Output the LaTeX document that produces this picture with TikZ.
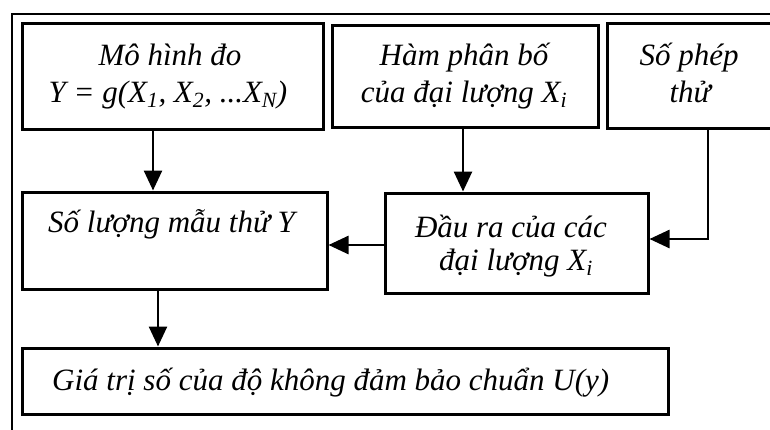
\documentclass[tikz,border=0pt]{standalone}
\usepackage{fontspec}
\setmainfont{Liberation Serif}
\usetikzlibrary{arrows.meta}
\newcommand{\sbx}[1]{\textsubscript{#1}}
\begin{document}
\begin{tikzpicture}[x=1pt,y=-1pt,
  box/.style={draw, line width=3pt, rectangle, inner sep=0pt},
  lbl/.style={anchor=base, inner sep=0pt, font=\fontsize{31}{37}\selectfont\itshape},
  lblw/.style={lbl, anchor=base west},
  arr/.style={line width=2.6pt, -{Triangle[length=20pt,width=18pt]}}]
\useasboundingbox (0,0) rectangle (770,429);
\clip (0,0) rectangle (770,429);
\draw[line width=2.6pt] (12,440) -- (12,14) -- (780,14);

\node[box, minimum width=301pt, minimum height=106pt] (A) at (172.5,76) {};
\node[box, minimum width=266pt, minimum height=102pt] (B) at (465,76) {};
\node[box, minimum width=193pt, minimum height=105pt] (C) at (703.5,75.5) {};
\node[box, minimum width=305pt, minimum height=97pt] (D) at (174.5,240.5) {};
\node[box, minimum width=263pt, minimum height=100pt] (E) at (516.5,243) {};
\node[box, minimum width=646pt, minimum height=66pt] (F) at (345,381) {};

\node[lbl] (a1) at (170,65) {Mô hình đo};
\node[lbl] (a2) at (168,102) {Y = g(X\sbx{1}, X\sbx{2}, ...X\sbx{N})};
\node[lbl] (b1) at (464,65) {Hàm phân bố};
\node[lbl] (b2) at (464,102) {của đại lượng X\sbx{i}};
\node[lbl] (c1) at (689,65) {Số phép};
\node[lbl] (c2) at (690,102) {thử};
\node[lblw] (d1) at (48,232) {Số lượng mẫu thử Y};
\node[lbl] (e1) at (511,237) {Đầu ra của các};
\node[lbl] (e2) at (516,270) {đại lượng X\sbx{i}};
\node[lblw] (f1) at (52,390) {Giá trị số của độ không đảm bảo chuẩn U(y)};

\coordinate (ax) at (153,0);
\coordinate (bx) at (463,0);
\coordinate (cx) at (708,0);
\coordinate (cy) at (0,239);
\coordinate (ey) at (0,245);
\coordinate (dx) at (158,0);

\draw[arr] (A.south -| ax) -- (D.north -| ax);
\draw[arr] (B.south -| bx) -- (E.north -| bx);
\draw[arr] (E.west |- ey) -- (D.east |- ey);
\draw[arr] (C.south -| cx) |- (E.east |- cy);
\draw[arr] (D.south -| dx) -- (F.north -| dx);
\end{tikzpicture}
\end{document}
